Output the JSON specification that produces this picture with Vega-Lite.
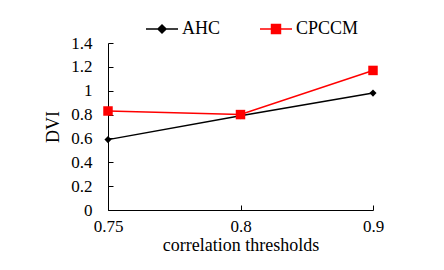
{
  "$schema": "https://vega.github.io/schema/vega-lite/v6.json",
  "width": 265,
  "height": 167,
  "autosize": "none",
  "padding": {"left": 108, "top": 43, "right": 71, "bottom": 60},
  "background": "white",
  "config": {
    "view": {"stroke": null},
    "font": "Liberation Serif",
    "axis": {
      "grid": false,
      "domainColor": "black",
      "domainWidth": 1,
      "tickColor": "black",
      "tickWidth": 1,
      "labelColor": "black",
      "titleColor": "black",
      "labelFont": "Liberation Serif",
      "titleFont": "Liberation Serif",
      "labelFontSize": 17,
      "titleFontSize": 18,
      "titleFontWeight": "normal"
    },
    "legend": {
      "labelFont": "Liberation Serif",
      "labelFontSize": 18,
      "labelColor": "black"
    }
  },
  "data": {
    "values": [
      {"threshold": "0.75", "series": "AHC", "DVI": 0.59},
      {"threshold": "0.8", "series": "AHC", "DVI": 0.79},
      {"threshold": "0.9", "series": "AHC", "DVI": 0.98},
      {"threshold": "0.75", "series": "CPCCM", "DVI": 0.83},
      {"threshold": "0.8", "series": "CPCCM", "DVI": 0.80},
      {"threshold": "0.9", "series": "CPCCM", "DVI": 1.17}
    ]
  },
  "encoding": {
    "x": {
      "field": "threshold",
      "type": "ordinal",
      "sort": ["0.75", "0.8", "0.9"],
      "scale": {"type": "point", "padding": 0},
      "axis": {
        "title": "correlation thresholds",
        "labelAngle": 0,
        "tickSize": -5,
        "labelPadding": 13,
        "titlePadding": 2
      }
    },
    "y": {
      "field": "DVI",
      "type": "quantitative",
      "scale": {"domain": [0, 1.4], "nice": false},
      "axis": {
        "title": "DVI",
        "values": [0, 0.2, 0.4, 0.6, 0.8, 1, 1.2, 1.4],
        "format": "~g",
        "tickSize": -5,
        "labelPadding": 21,
        "titlePadding": 8
      }
    }
  },
  "layer": [
    {
      "mark": {"type": "line", "strokeWidth": 1.5},
      "encoding": {
        "color": {
          "field": "series",
          "type": "nominal",
          "scale": {"domain": ["AHC", "CPCCM"], "range": ["#000000", "#ff0000"]},
          "legend": {
            "title": null,
            "orient": "none",
            "direction": "horizontal",
            "legendX": 37,
            "legendY": -31,
            "symbolType": "M-1,0H1M0,-0.25L0.25,0L0,0.25L-0.25,0Z",
            "symbolSize": 1024,
            "symbolStrokeWidth": 1.5,
            "labelOffset": 3,
            "columnPadding": 36,
            "encode": {
              "symbols": {
                "update": {
                  "shape": {"signal": "datum.value === 'AHC' ? 'M-1,0H1M0,-0.25L0.25,0L0,0.25L-0.25,0Z' : 'M-1,0H1M-0.28,-0.28H0.28V0.28H-0.28Z'"},
                  "fill": {"signal": "datum.value === 'AHC' ? '#000000' : '#ff0000'"}
                }
              }
            }
          }
        }
      }
    },
    {
      "transform": [{"filter": "datum.series === 'AHC'"}],
      "mark": {"type": "point", "filled": true, "opacity": 1, "shape": "diamond", "size": 50, "color": "#000000"}
    },
    {
      "transform": [{"filter": "datum.series === 'CPCCM'"}],
      "mark": {"type": "point", "filled": true, "opacity": 1, "shape": "square", "size": 90, "color": "#ff0000"}
    }
  ]
}
